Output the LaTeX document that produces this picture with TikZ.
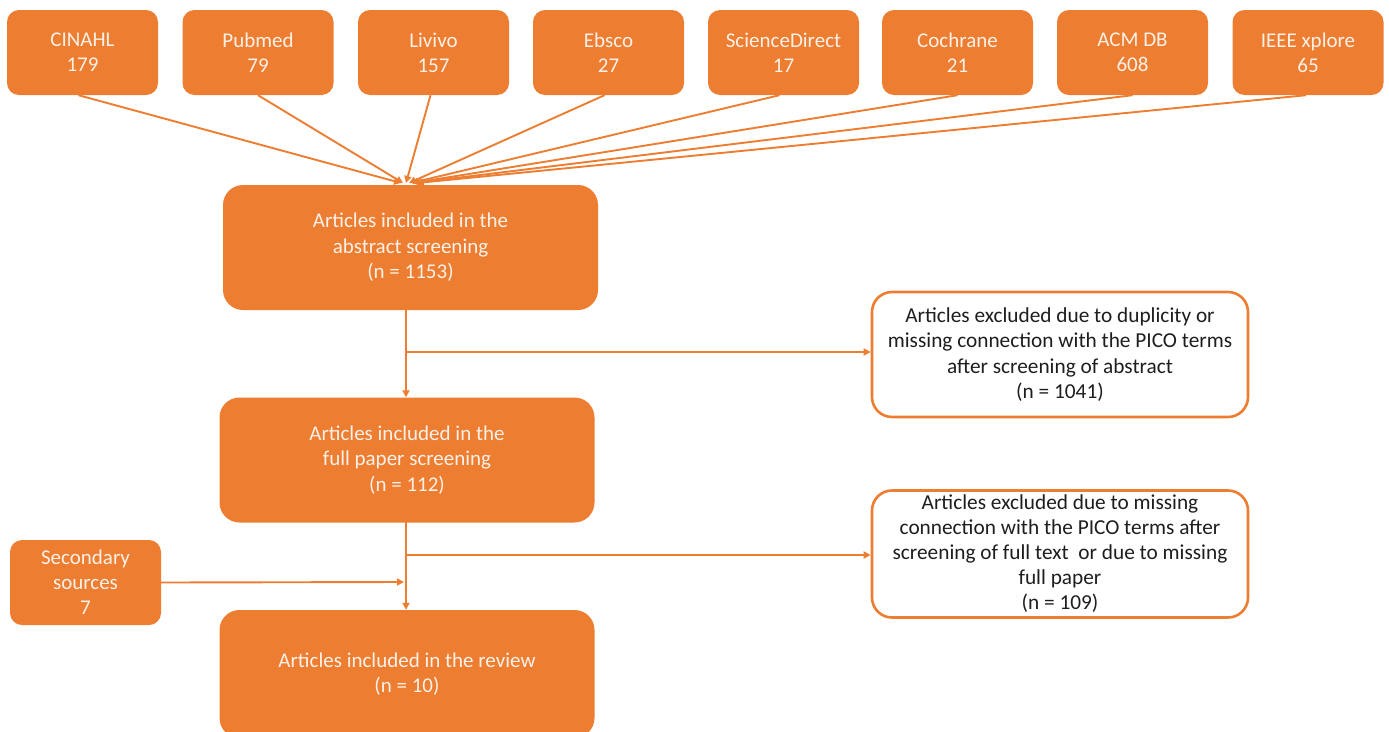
\documentclass[tikz,border=0pt]{standalone}
\usepackage{fontspec}
\setmainfont{Carlito}
\usetikzlibrary{arrows.meta}
\definecolor{orng}{HTML}{ED7D31}
\definecolor{ltext}{HTML}{FCF1E8}
\definecolor{dtext}{HTML}{1E1E1E}
\tikzset{
  src/.style={fill=orng, draw=none, rounded corners=12pt, minimum width=151pt, minimum height=85pt,
    align=center, text=ltext, font=\fontsize{21}{25}\selectfont, inner sep=0pt},
  bigbox/.style={fill=orng, draw=none, rounded corners=20pt, minimum width=375pt, minimum height=125pt,
    align=center, text=ltext, font=\fontsize{21}{25.5}\selectfont, inner sep=0pt},
  exbox/.style={fill=white, draw=orng, line width=2.6pt, rounded corners=20pt, minimum width=376pt, minimum height=125pt,
    align=center, text=dtext, font=\fontsize{21.3}{25.5}\selectfont, inner sep=0pt},
  conn/.style={draw=orng, line width=1.9pt, -{Triangle[length=7pt,width=7pt]}},
  plain/.style={draw=orng, line width=1.9pt}
}
\begin{document}
\begin{tikzpicture}[x=1pt,y=-1pt]
\useasboundingbox (0,0) rectangle (1389,731);
\clip (0,0) rectangle (1389,731);
\node[src] (s1) at (82.5,52.5) {CINAHL\\179};
\node[src] (s2) at (258,52.5) {Pubmed\\79};
\node[src] (s3) at (433.5,52.5) {Livivo\\157};
\node[src] (s4) at (608.5,52.5) {Ebsco\\27};
\node[src] (s5) at (783.5,52.5) {ScienceDirect\\17};
\node[src] (s6) at (957.5,52.5) {Cochrane\\21};
\node[src] (s7) at (1132.5,52.5) {ACM DB\\608};
\node[src] (s8) at (1308,52.5) {IEEE xplore\\65};

\node[bigbox] (abs) at (410.5,247.5) {Articles included in the\\abstract screening\\(n = 1153)};
\node[bigbox] (full) at (407,460) {Articles included in the\\full paper screening\\(n = 112)};
\node[bigbox, minimum height=128pt] (rev) at (407,674) {Articles included in the review\\(n = 10)};
\node[src] (sec) at (85.5,582.5) {Secondary\\sources\\7};

\node[exbox] (ex1) at (1060,354.5) {Articles excluded due to duplicity or\\missing connection with the PICO terms\\after screening of abstract\\(n = 1041)};
\node[exbox, minimum height=127pt, font=\fontsize{21.3}{25}\selectfont] (ex2) at (1060,554) {Articles excluded due to missing\\connection with the PICO terms after\\screening of full text\ \ or due to missing\\full paper\\(n = 109)};

\coordinate (t1) at (401,183);
\coordinate (t2) at (403,183);
\coordinate (t3) at (406,183);
\coordinate (t4) at (409,183);
\coordinate (t5) at (411,183);
\coordinate (t6) at (413,183);
\coordinate (t7) at (415,183);
\coordinate (t8) at (417,183);
\draw[conn] ([xshift=-4pt]s1.south) -- (t1);
\draw[conn] (s2.south) -- (t2);
\draw[conn] ([xshift=-3pt]s3.south) -- (t3);
\draw[conn] ([xshift=-4pt]s4.south) -- (t4);
\draw[conn] ([xshift=-4pt]s5.south) -- (t5);
\draw[conn] (s6.south) -- (t6);
\draw[conn] (s7.south) -- (t7);
\draw[conn] ([xshift=-2pt]s8.south) -- (t8);

\coordinate (a1) at (406,310);
\coordinate (b1) at (406,352);
\coordinate (a2) at (406,522);
\coordinate (b2) at (406,555);
\coordinate (b3) at (406,582);
\draw[conn] (a1) -- (a1 |- full.north);
\draw[conn] (b1) -- (b1 -| ex1.west);
\draw[conn] (a2) -- (a2 |- rev.north);
\draw[conn] (b2) -- (b2 -| ex2.west);
\draw[conn] (sec.east) -- ([xshift=-2pt]b3);
\end{tikzpicture}
\end{document}
